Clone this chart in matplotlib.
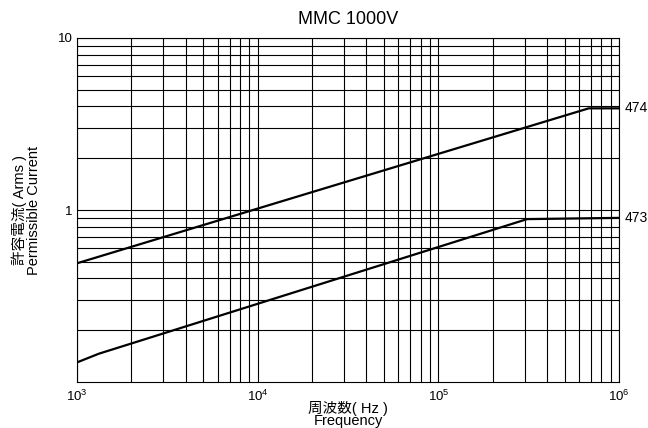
import matplotlib
matplotlib.use("Agg")
import matplotlib.pyplot as plt
from matplotlib.ticker import LogLocator, FixedLocator, NullFormatter, FixedFormatter

plt.rcParams['font.family'] = ['Liberation Sans', 'Noto Sans CJK JP', 'DejaVu Sans']
plt.rcParams['mathtext.fontset'] = 'custom'
plt.rcParams['mathtext.rm'] = 'Liberation Sans'

# curve data (frequency in Hz, current in Arms)
freq_474 = [1e3, 6.8e5, 1e6]
curr_474 = [0.49, 3.9, 3.9]

freq_473 = [1e3, 1.32e3, 3.1e5, 1e6]
curr_473 = [0.13, 0.146, 0.885, 0.9]

curve_names = ["474", "473"]
x_ticks = [1e3, 1e4, 1e5, 1e6]
y_ticks = [1, 10]
y_tick_labels = ["1", "10"]


def main():
    W, H = 648, 428
    fig = plt.figure(figsize=(W / 100, H / 100), dpi=100)
    ax = fig.add_axes([77 / W, 1 - 382 / H, 542 / W, 344 / H])

    ax.plot(freq_474, curr_474, color="black", lw=1.6)
    ax.plot(freq_473, curr_473, color="black", lw=1.6)

    ax.set_xscale("log")
    ax.set_yscale("log")
    ax.set_xlim(1e3, 1e6)
    ax.set_ylim(0.1, 10)

    ax.xaxis.set_major_locator(FixedLocator(x_ticks))
    ax.xaxis.set_minor_locator(LogLocator(base=10, subs=range(2, 10)))
    ax.xaxis.set_minor_formatter(NullFormatter())
    ax.yaxis.set_major_locator(FixedLocator(y_ticks))
    ax.yaxis.set_major_formatter(FixedFormatter(y_tick_labels))
    ax.yaxis.set_minor_locator(LogLocator(base=10, subs=range(2, 10)))
    ax.yaxis.set_minor_formatter(NullFormatter())

    ax.grid(True, which="both", color="black", lw=0.8)
    ax.tick_params(which="both", length=0, labelsize=9.5)
    ax.tick_params(axis="x", pad=5)
    ax.tick_params(axis="y", pad=3)
    for s in ax.spines.values():
        s.set_linewidth(0.8)

    # curve labels on the right
    ax.text(1.07e6, curr_474[-1], curve_names[0], va="center", ha="left",
            fontsize=10, clip_on=False)
    ax.text(1.07e6, curr_473[-1], curve_names[1], va="center", ha="left",
            fontsize=10, clip_on=False)

    fig.text(348 / W, 1 - 19 / H, "MMC 1000V", fontsize=13,
             ha="center", va="center")

    # axis titles, two lines each
    fig.text(348 / W, 1 - 408 / H, "周波数( Hz )", fontsize=10.5,
             ha="center", va="center")
    fig.text(348 / W, 1 - 421 / H, "Frequency", fontsize=10.5,
             ha="center", va="center")
    fig.text(19 / W, 1 - 210 / H, "許容電流( Arms )", fontsize=10.5,
             ha="center", va="center", rotation=90)
    fig.text(34 / W, 1 - 210 / H, "Permissible Current", fontsize=10.5,
             ha="center", va="center", rotation=90)

    fig.savefig("out.png", dpi=100)


if __name__ == "__main__":
    main()
